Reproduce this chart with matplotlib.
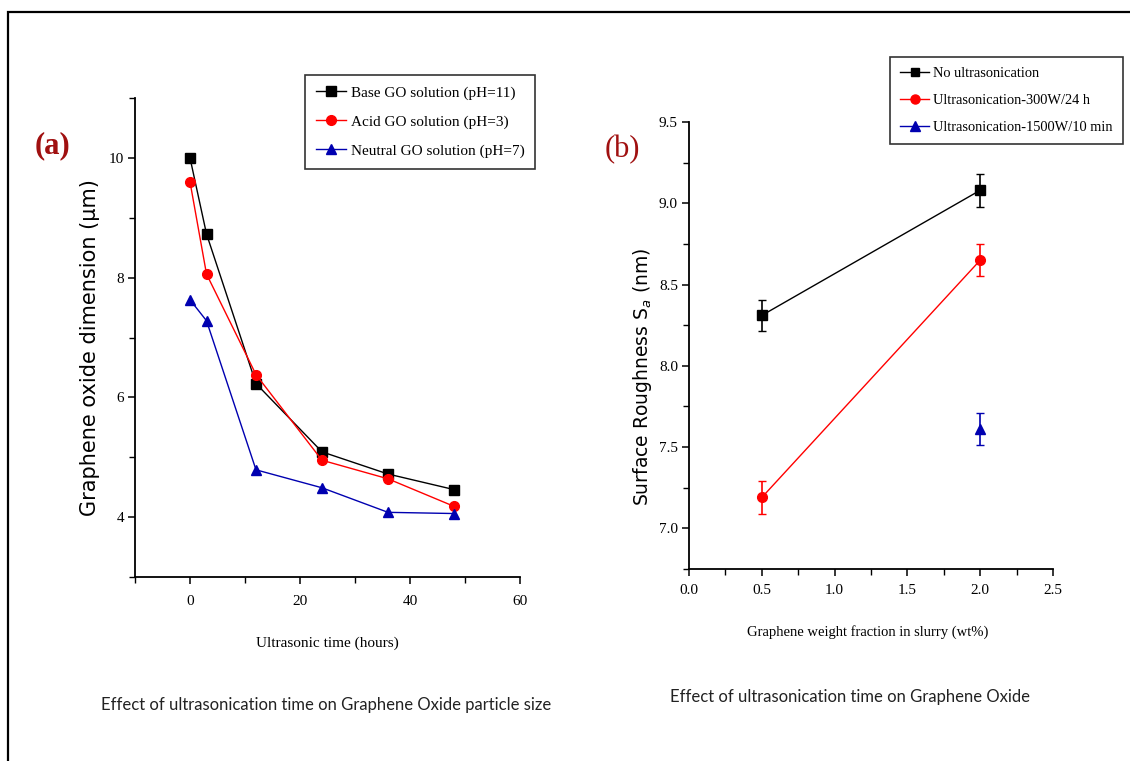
import matplotlib
matplotlib.use('Agg')
import matplotlib.pyplot as plt
from matplotlib.ticker import MultipleLocator, FormatStrFormatter
from matplotlib.patches import Rectangle
from matplotlib.lines import Line2D

# Panel (a) data: particle size vs ultrasonic time
time_h = [0, 3, 12, 24, 36, 48]
base_go = [10.0, 8.73, 6.23, 5.09, 4.72, 4.46]
acid_go = [9.6, 8.06, 6.38, 4.95, 4.64, 4.18]
neutral_go = [7.63, 7.28, 4.79, 4.49, 4.08, 4.06]
labels_a = ['Base GO solution (pH=11)', 'Acid GO solution (pH=3)', 'Neutral GO solution (pH=7)']

# Panel (b) data: surface roughness vs graphene fraction
wt_frac = [0.5, 2.0]
no_us = [8.31, 9.08]
no_us_err = [0.095, 0.1]
us_300 = [7.19, 8.65]
us_300_err = [0.1, 0.1]
wt_frac_1500 = [2.0]
us_1500 = [7.61]
us_1500_err = [0.1]
labels_b = ['No ultrasonication', 'Ultrasonication-300W/24 h', 'Ultrasonication-1500W/10 min']

serif = 'Liberation Serif'
caption_font = 'Lato'
darkred = '#A01010'
blue = '#0000B0'

fig = plt.figure(figsize=(11.3, 7.61), dpi=100)
W, H = 1130, 761

def px_axes(l, t, r, b):
    return fig.add_axes([l / W, 1 - b / H, (r - l) / W, (b - t) / H])

def style_axes(ax, xpad):
    for s in ['top', 'right']:
        ax.spines[s].set_visible(False)
    for s in ['left', 'bottom']:
        ax.spines[s].set_linewidth(1.3)
    ax.tick_params(which='major', direction='out', length=5, width=1.1, labelsize=11, pad=3)
    ax.tick_params(axis='x', which='major', pad=xpad)
    ax.tick_params(which='minor', direction='out', length=4, width=1.0)
    for lab in ax.get_xticklabels() + ax.get_yticklabels():
        lab.set_fontfamily(serif)

def add_legend(ax, handles, labels, x, y, size, spacing):
    leg = ax.legend(handles, labels, loc='upper left', bbox_to_anchor=(x / W, 1 - y / H),
                    bbox_transform=fig.transFigure, borderaxespad=0,
                    prop={'family': serif, 'size': size}, frameon=True, fancybox=False,
                    edgecolor='black', handlelength=2.0, handletextpad=0.3,
                    labelspacing=spacing, borderpad=0.7)
    leg.get_frame().set_linewidth(1.2)
    return leg

# ---- panel (a)
ax1 = px_axes(135, 98, 520, 577)
ax1.plot(time_h, base_go, color='black', marker='s', ms=6.5, lw=1.0, label=labels_a[0])
ax1.plot(time_h, acid_go, color='red', marker='o', ms=7, lw=1.0, label=labels_a[1])
ax1.plot(time_h, neutral_go, color=blue, marker='^', ms=7, lw=1.0, label=labels_a[2])
ax1.set_xlim(-10, 60)
ax1.set_ylim(3, 11)
ax1.xaxis.set_major_locator(MultipleLocator(20))
ax1.xaxis.set_minor_locator(MultipleLocator(10))
ax1.yaxis.set_major_locator(MultipleLocator(2))
ax1.yaxis.set_minor_locator(MultipleLocator(1))
style_axes(ax1, 8)
ax1.set_xlabel('Ultrasonic time (hours)', fontfamily=serif, fontsize=11)
ax1.xaxis.set_label_coords(0.5, -0.125)
ax1.set_ylabel('Graphene oxide dimension (μm)', fontfamily='DejaVu Sans', fontsize=15)
ax1.yaxis.set_label_coords(-0.092, 0.48)
h1, l1 = ax1.get_legend_handles_labels()
add_legend(ax1, h1, l1, 305, 75, 11, 1.0)
fig.text(53 / W, 1 - 146 / H, '(a)', color=darkred, fontsize=22, fontweight='bold',
         fontfamily=serif, ha='center', va='center')

# ---- panel (b)
ax2 = px_axes(689, 122, 1053, 569)
ax2.errorbar(wt_frac, no_us, yerr=no_us_err, color='black', marker='s', ms=6.5, lw=1.0,
             capsize=3, elinewidth=1.2)
ax2.errorbar(wt_frac, us_300, yerr=us_300_err, color='red', marker='o', ms=7, lw=1.0,
             capsize=3, elinewidth=1.2)
ax2.errorbar(wt_frac_1500, us_1500, yerr=us_1500_err, color=blue, marker='^', ms=7, lw=1.0,
             capsize=3, elinewidth=1.2, ls='none')
ax2.set_xlim(0, 2.5)
ax2.set_ylim(6.75, 9.5)
ax2.xaxis.set_major_locator(MultipleLocator(0.5))
ax2.xaxis.set_minor_locator(MultipleLocator(0.25))
ax2.yaxis.set_major_locator(MultipleLocator(0.5))
ax2.yaxis.set_minor_locator(MultipleLocator(0.25))
ax2.xaxis.set_major_formatter(FormatStrFormatter('%.1f'))
ax2.yaxis.set_major_formatter(FormatStrFormatter('%.1f'))
style_axes(ax2, 6)
ax2.set_xlabel('Graphene weight fraction in slurry (wt%)', fontfamily=serif, fontsize=10.5)
ax2.xaxis.set_label_coords(0.49, -0.125)
ax2.set_ylabel('Surface Roughness S$_a$ (nm)', fontfamily='DejaVu Sans', fontsize=13.5)
ax2.yaxis.set_label_coords(-0.095, 0.43)
h2 = [Line2D([], [], color='black', marker='s', ms=6, lw=1.0),
      Line2D([], [], color='red', marker='o', ms=6.5, lw=1.0),
      Line2D([], [], color=blue, marker='^', ms=6.5, lw=1.0)]
add_legend(ax2, h2, labels_b, 890, 57, 10.4, 0.95)
fig.text(622 / W, 1 - 150 / H, '(b)', color=darkred, fontsize=22,
         fontfamily=serif, ha='center', va='center')

# captions under each panel
fig.text(326 / W, 1 - 705 / H, 'Effect of ultrasonication time on Graphene Oxide particle size',
         fontfamily=caption_font, fontsize=12, ha='center', va='center', color='#222222')
fig.text(850 / W, 1 - 697 / H, 'Effect of ultrasonication time on Graphene Oxide',
         fontfamily=caption_font, fontsize=12, ha='center', va='center', color='#222222')

# frame around the whole picture
fig.patches.append(Rectangle((8 / W, -0.1), 1.2, 1 - 12 / H + 0.1, transform=fig.transFigure,
                             fill=False, edgecolor='black', linewidth=1.6))

fig.savefig('out.png', dpi=100)
